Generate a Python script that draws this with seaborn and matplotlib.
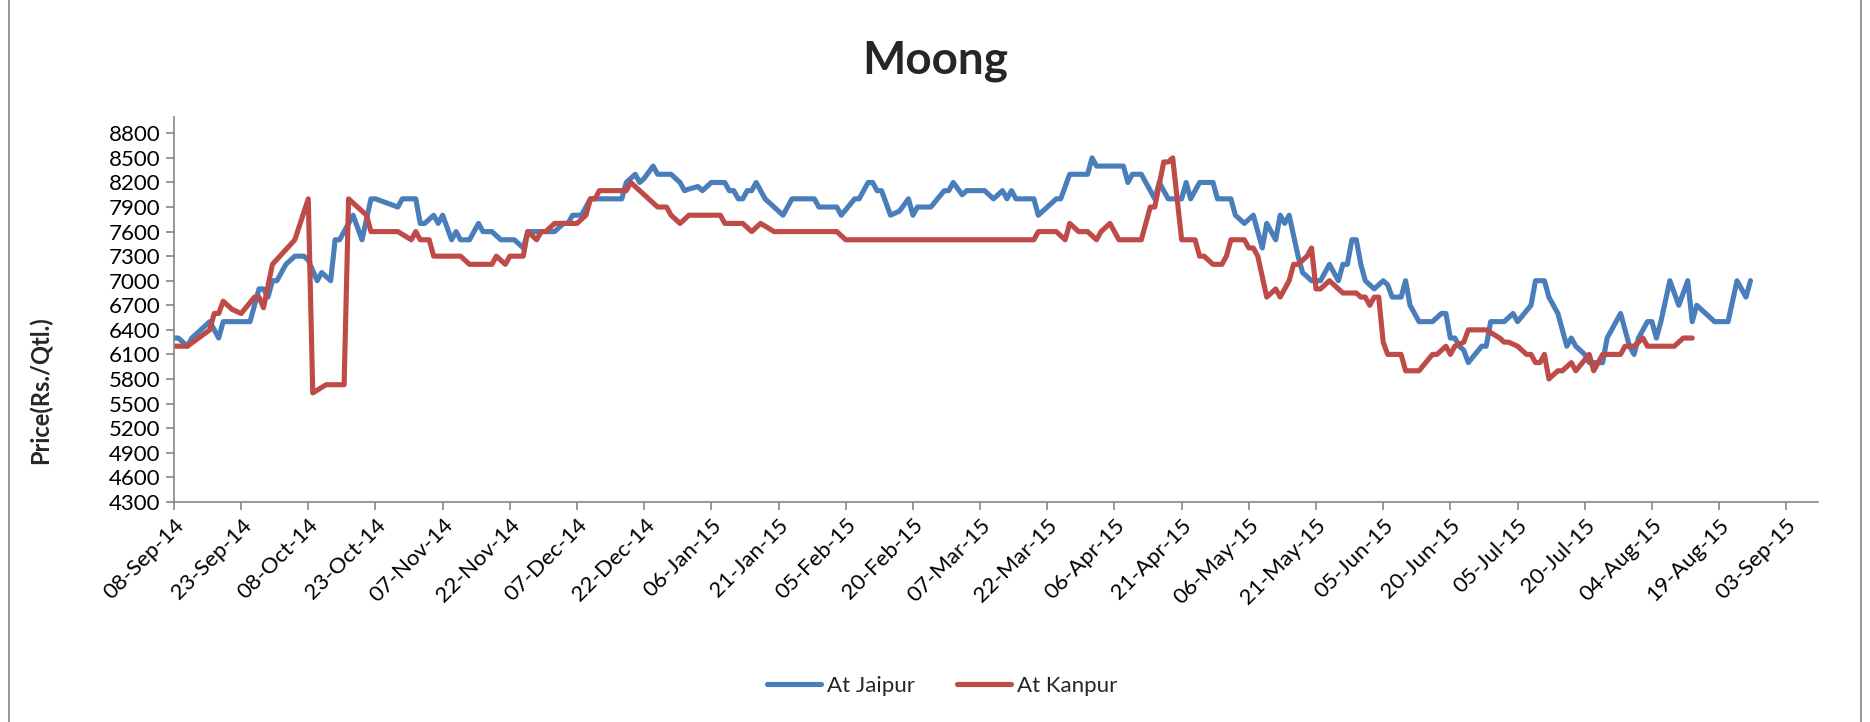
import matplotlib
matplotlib.use("Agg")
import matplotlib.pyplot as plt
import matplotlib.dates as mdates
import pandas as pd
import seaborn as sns
from matplotlib.patches import Rectangle

# Jaipur prices (Rs./Qtl.)
jaipur_dates = [
    "2014-09-08", "2014-09-09", "2014-09-11", "2014-09-12", "2014-09-14", "2014-09-16", "2014-09-18",
    "2014-09-19", "2014-09-25", "2014-09-27", "2014-09-28", "2014-09-29", "2014-09-30", "2014-10-01",
    "2014-10-03", "2014-10-05", "2014-10-07", "2014-10-08", "2014-10-10", "2014-10-11", "2014-10-13",
    "2014-10-14", "2014-10-15", "2014-10-18", "2014-10-19", "2014-10-20", "2014-10-22", "2014-10-23",
    "2014-10-28", "2014-10-29", "2014-11-01", "2014-11-02", "2014-11-03", "2014-11-05", "2014-11-06",
    "2014-11-07", "2014-11-09", "2014-11-10", "2014-11-11", "2014-11-13", "2014-11-15", "2014-11-16",
    "2014-11-18", "2014-11-20", "2014-11-23", "2014-11-25", "2014-11-26", "2014-11-28", "2014-12-02",
    "2014-12-04", "2014-12-05", "2014-12-06", "2014-12-08", "2014-12-09", "2014-12-10", "2014-12-17",
    "2014-12-18", "2014-12-20", "2014-12-21", "2014-12-22", "2014-12-24", "2014-12-25", "2014-12-28",
    "2014-12-30", "2014-12-31", "2015-01-01", "2015-01-03", "2015-01-04", "2015-01-06", "2015-01-09",
    "2015-01-10", "2015-01-11", "2015-01-12", "2015-01-13", "2015-01-14", "2015-01-15", "2015-01-16",
    "2015-01-18", "2015-01-19", "2015-01-20", "2015-01-22", "2015-01-24", "2015-01-29", "2015-01-30",
    "2015-02-03", "2015-02-04", "2015-02-07", "2015-02-08", "2015-02-10", "2015-02-11", "2015-02-12",
    "2015-02-13", "2015-02-15", "2015-02-17", "2015-02-19", "2015-02-20", "2015-02-21", "2015-02-24",
    "2015-02-27", "2015-02-28", "2015-03-01", "2015-03-03", "2015-03-04", "2015-03-08", "2015-03-10",
    "2015-03-12", "2015-03-13", "2015-03-14", "2015-03-15", "2015-03-19", "2015-03-20", "2015-03-22",
    "2015-03-24", "2015-03-25", "2015-03-27", "2015-03-31", "2015-04-01", "2015-04-02", "2015-04-08",
    "2015-04-09", "2015-04-10", "2015-04-12", "2015-04-15", "2015-04-16", "2015-04-18", "2015-04-21",
    "2015-04-22", "2015-04-23", "2015-04-25", "2015-04-28", "2015-04-29", "2015-05-02", "2015-05-03",
    "2015-05-05", "2015-05-07", "2015-05-09", "2015-05-10", "2015-05-12", "2015-05-13", "2015-05-14",
    "2015-05-15", "2015-05-17", "2015-05-18", "2015-05-20", "2015-05-22", "2015-05-24", "2015-05-26",
    "2015-05-27", "2015-05-28", "2015-05-29", "2015-05-30", "2015-05-31", "2015-06-01", "2015-06-03",
    "2015-06-05", "2015-06-06", "2015-06-07", "2015-06-09", "2015-06-10", "2015-06-11", "2015-06-13",
    "2015-06-16", "2015-06-18", "2015-06-19", "2015-06-20", "2015-06-21", "2015-06-22", "2015-06-23",
    "2015-06-24", "2015-06-27", "2015-06-28", "2015-06-29", "2015-07-01", "2015-07-02", "2015-07-04",
    "2015-07-05", "2015-07-08", "2015-07-09", "2015-07-11", "2015-07-12", "2015-07-14", "2015-07-15",
    "2015-07-16", "2015-07-17", "2015-07-18", "2015-07-20", "2015-07-21", "2015-07-24", "2015-07-25",
    "2015-07-26", "2015-07-28", "2015-07-30", "2015-07-31", "2015-08-01", "2015-08-03", "2015-08-04",
    "2015-08-05", "2015-08-06", "2015-08-08", "2015-08-10", "2015-08-12", "2015-08-13", "2015-08-14",
    "2015-08-18", "2015-08-21", "2015-08-23", "2015-08-25", "2015-08-26",
]
jaipur_prices = [
    6300, 6300, 6200, 6300, 6400, 6500, 6300,
    6500, 6500, 6900, 6900, 6800, 7000, 7000,
    7200, 7300, 7300, 7250, 7000, 7100, 7000,
    7500, 7500, 7800, 7650, 7500, 8000, 8000,
    7900, 8000, 8000, 7700, 7700, 7800, 7700,
    7800, 7500, 7600, 7500, 7500, 7700, 7600,
    7600, 7500, 7500, 7400, 7600, 7600, 7600,
    7700, 7700, 7800, 7800, 7900, 8000, 8000,
    8200, 8300, 8200, 8250, 8400, 8300, 8300,
    8200, 8100, 8120, 8150, 8100, 8200, 8200,
    8100, 8100, 8000, 8000, 8100, 8100, 8200,
    8000, 7950, 7900, 7800, 8000, 8000, 7900,
    7900, 7800, 8000, 8000, 8200, 8200, 8100,
    8100, 7800, 7850, 8000, 7800, 7900, 7900,
    8100, 8100, 8200, 8050, 8100, 8100, 8000,
    8100, 8000, 8100, 8000, 8000, 7800, 7900,
    8000, 8000, 8300, 8300, 8500, 8400, 8400,
    8200, 8300, 8300, 8000, 8200, 8000, 8000,
    8200, 8000, 8200, 8200, 8000, 8000, 7800,
    7700, 7800, 7400, 7700, 7500, 7800, 7700,
    7800, 7300, 7100, 7000, 7000, 7200, 7000,
    7200, 7200, 7500, 7500, 7200, 7000, 6900,
    7000, 6950, 6800, 6800, 7000, 6700, 6500,
    6500, 6600, 6600, 6300, 6300, 6200, 6150,
    6000, 6200, 6200, 6500, 6500, 6500, 6600,
    6500, 6700, 7000, 7000, 6800, 6600, 6400,
    6200, 6300, 6200, 6100, 6000, 6000, 6300,
    6400, 6600, 6200, 6100, 6300, 6500, 6500,
    6300, 6500, 7000, 6700, 7000, 6500, 6700,
    6500, 6500, 7000, 6800, 7000,
]

# Kanpur prices (Rs./Qtl.)
kanpur_dates = [
    "2014-09-08", "2014-09-11", "2014-09-13", "2014-09-16", "2014-09-17", "2014-09-18", "2014-09-19",
    "2014-09-21", "2014-09-23", "2014-09-26", "2014-09-27", "2014-09-28", "2014-09-30", "2014-10-05",
    "2014-10-08", "2014-10-09", "2014-10-12", "2014-10-16", "2014-10-17", "2014-10-21", "2014-10-22",
    "2014-10-28", "2014-10-31", "2014-11-01", "2014-11-02", "2014-11-04", "2014-11-05", "2014-11-11",
    "2014-11-13", "2014-11-18", "2014-11-19", "2014-11-21", "2014-11-22", "2014-11-25", "2014-11-26",
    "2014-11-28", "2014-11-29", "2014-11-30", "2014-12-02", "2014-12-07", "2014-12-09", "2014-12-10",
    "2014-12-11", "2014-12-12", "2014-12-18", "2014-12-19", "2014-12-21", "2014-12-23", "2014-12-25",
    "2014-12-27", "2014-12-28", "2014-12-30", "2015-01-01", "2015-01-08", "2015-01-09", "2015-01-13",
    "2015-01-15", "2015-01-17", "2015-01-20", "2015-02-03", "2015-02-05", "2015-03-19", "2015-03-20",
    "2015-03-24", "2015-03-26", "2015-03-27", "2015-03-29", "2015-03-31", "2015-04-02", "2015-04-03",
    "2015-04-05", "2015-04-07", "2015-04-12", "2015-04-14", "2015-04-15", "2015-04-17", "2015-04-18",
    "2015-04-19", "2015-04-21", "2015-04-24", "2015-04-25", "2015-04-26", "2015-04-28", "2015-04-30",
    "2015-05-01", "2015-05-02", "2015-05-05", "2015-05-06", "2015-05-07", "2015-05-08", "2015-05-10",
    "2015-05-12", "2015-05-13", "2015-05-15", "2015-05-16", "2015-05-17", "2015-05-19", "2015-05-20",
    "2015-05-21", "2015-05-22", "2015-05-24", "2015-05-25", "2015-05-27", "2015-05-30", "2015-05-31",
    "2015-06-01", "2015-06-02", "2015-06-03", "2015-06-04", "2015-06-05", "2015-06-06", "2015-06-09",
    "2015-06-10", "2015-06-13", "2015-06-16", "2015-06-17", "2015-06-19", "2015-06-20", "2015-06-21",
    "2015-06-23", "2015-06-24", "2015-06-28", "2015-07-01", "2015-07-02", "2015-07-03", "2015-07-05",
    "2015-07-07", "2015-07-08", "2015-07-09", "2015-07-10", "2015-07-11", "2015-07-12", "2015-07-14",
    "2015-07-15", "2015-07-17", "2015-07-18", "2015-07-21", "2015-07-22", "2015-07-24", "2015-07-28",
    "2015-07-29", "2015-07-31", "2015-08-02", "2015-08-03", "2015-08-09", "2015-08-11", "2015-08-13",
]
kanpur_prices = [
    6200, 6200, 6280, 6400, 6600, 6600, 6750,
    6650, 6600, 6800, 6800, 6670, 7200, 7500,
    8000, 5630, 5730, 5730, 8000, 7800, 7600,
    7600, 7500, 7600, 7500, 7500, 7300, 7300,
    7200, 7200, 7300, 7200, 7300, 7300, 7600,
    7500, 7600, 7600, 7700, 7700, 7800, 8000,
    8000, 8100, 8100, 8200, 8100, 8000, 7900,
    7900, 7800, 7700, 7800, 7800, 7700, 7700,
    7600, 7700, 7600, 7600, 7500, 7500, 7600,
    7600, 7500, 7700, 7600, 7600, 7500, 7600,
    7700, 7500, 7500, 7900, 7900, 8450, 8450,
    8500, 7500, 7500, 7300, 7300, 7200, 7200,
    7300, 7500, 7500, 7400, 7400, 7300, 6800,
    6900, 6800, 7000, 7200, 7200, 7300, 7400,
    6900, 6900, 7000, 6950, 6850, 6850, 6800,
    6800, 6700, 6800, 6800, 6250, 6100, 6100,
    5900, 5900, 6100, 6100, 6200, 6100, 6200,
    6250, 6400, 6400, 6300, 6250, 6250, 6200,
    6100, 6100, 6000, 6000, 6100, 5800, 5900,
    5900, 6000, 5900, 6100, 5900, 6100, 6100,
    6200, 6200, 6300, 6200, 6200, 6300, 6300,
]

y_ticks = list(range(4300, 8801, 300))

sns.set_theme(style="white")
plt.rcParams["font.family"] = ["Lato", "DejaVu Sans"]

df_j = pd.DataFrame({"Date": pd.to_datetime(jaipur_dates), "Price": jaipur_prices})
df_k = pd.DataFrame({"Date": pd.to_datetime(kanpur_dates), "Price": kanpur_prices})

fig = plt.figure(figsize=(18.7, 7.22), dpi=100)
ax = fig.add_axes([0.093, 0.305, 0.879, 0.533])

sns.lineplot(data=df_j, x="Date", y="Price", ax=ax, color="#4A7EBB", linewidth=3.7,
             estimator=None, sort=False, label="At Jaipur")
sns.lineplot(data=df_k, x="Date", y="Price", ax=ax, color="#BE4B48", linewidth=3.7,
             estimator=None, sort=False, label="At Kanpur")

ax.set_ylim(4300, 9000)
ax.set_yticks(y_ticks)
ax.set_xlim(pd.Timestamp("2014-09-08"), pd.Timestamp("2015-09-10"))
ax.set_xticks(pd.date_range("2014-09-08", periods=25, freq="15D"))
ax.xaxis.set_major_formatter(mdates.DateFormatter("%d-%b-%y"))

for s in ["top", "right"]:
    ax.spines[s].set_visible(False)
for s in ["left", "bottom"]:
    ax.spines[s].set_color("#868686")
    ax.spines[s].set_linewidth(1.2)

ax.tick_params(axis="both", which="major", length=6, width=1.2, color="#868686",
               labelsize=16, labelcolor="black", direction="out", left=True, bottom=True)
plt.setp(ax.get_xticklabels(), rotation=45, ha="right", rotation_mode="anchor")

ax.set_xlabel("")
ax.set_ylabel("Price(Rs./Qtl.)", fontsize=17, fontweight="bold")
ax.yaxis.set_label_coords(-0.074, 0.29)

fig.suptitle("Moong", x=0.5, y=0.945, fontsize=33, fontweight="bold")

ax.legend(loc="center", bbox_to_anchor=(0.504, 0.05), bbox_transform=fig.transFigure,
          ncol=2, frameon=False, fontsize=16, handlelength=2.4, columnspacing=1.9,
          handletextpad=0.3)

fig.patches.append(Rectangle((0.005, -0.01), 0.99, 1.02, transform=fig.transFigure,
                             fill=False, edgecolor="#868686", linewidth=1.2))

fig.savefig("out.png", dpi=100)
